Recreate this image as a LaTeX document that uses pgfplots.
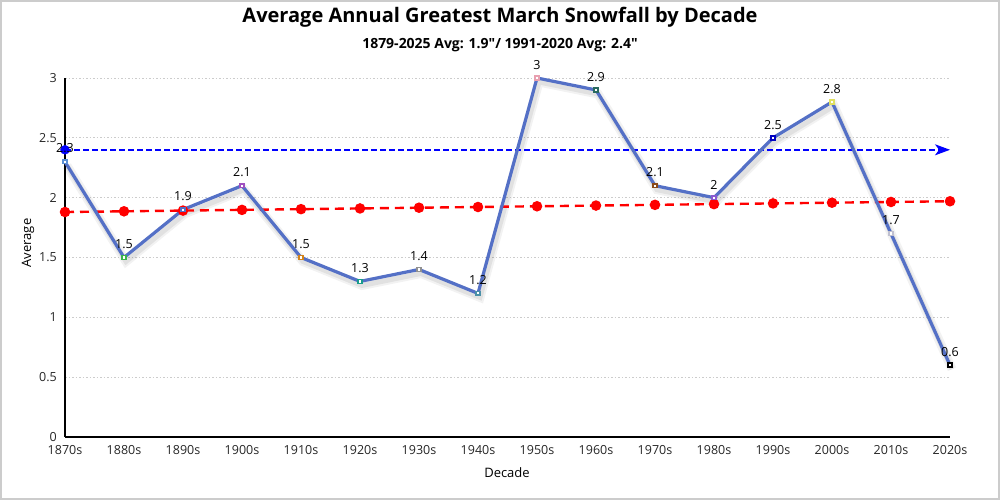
\documentclass[border=0pt]{standalone}
\usepackage{pgfplots}
\pgfplotsset{compat=1.18}
\usepackage{fontspec}
\setmainfont{Open Sans}[Ligatures=TeXOff]
\usetikzlibrary{arrows.meta}

\definecolor{LineBlue}{HTML}{5470C6}
\definecolor{FrameGray}{HTML}{CCCCCC}
\definecolor{RefBlue}{HTML}{0000FF}
\definecolor{c1}{HTML}{5B8FD6}
\definecolor{c2}{HTML}{3BB54A}
\definecolor{c3}{HTML}{5470C6}
\definecolor{c4}{HTML}{A050C0}
\definecolor{c5}{HTML}{D4841A}
\definecolor{c6}{HTML}{1A9C8C}
\definecolor{c7}{HTML}{909090}
\definecolor{c8}{HTML}{4A90A8}
\definecolor{c9}{HTML}{E8A0B0}
\definecolor{c10}{HTML}{2A6A60}
\definecolor{c11}{HTML}{8B4A1A}
\definecolor{c12}{HTML}{8A5AD0}
\definecolor{c13}{HTML}{0000C0}
\definecolor{c14}{HTML}{E0E060}
\definecolor{c15}{HTML}{C0C0D0}
\definecolor{c16}{HTML}{000000}

\pgfplotstableread{
x  y    c
0  2.3  a
1  1.5  b
2  1.9  c
3  2.1  d
4  1.5  e
5  1.3  f
6  1.4  g
7  1.2  h
8  3.0  i
9  2.9  j
10 2.1  k
11 2.0  l
12 2.5  m
13 2.8  n
14 1.7  o
15 0.6  p
}\snow

\begin{document}
\begin{tikzpicture}[x=1pt,y=1pt]
\draw[FrameGray, line width=2pt] (1,1) rectangle (999,499);
\begin{axis}[
  scale only axis,
  width=885pt, height=359pt,
  at={(65pt,63pt)}, anchor=south west,
  xmin=0, xmax=15, ymin=0, ymax=3,
  axis x line=bottom, axis y line=left,
  axis line style={-, black, line width=1.2pt},
  xtick={0,...,15},
  xticklabels={1870s,1880s,1890s,1900s,1910s,1920s,1930s,1940s,1950s,1960s,1970s,1980s,1990s,2000s,2010s,2020s},
  ytick={0,0.5,1,1.5,2,2.5,3},
  major tick length=0pt,
  ymajorgrids,
  grid style={gray!40, line width=0.8pt, dash pattern=on 1.5pt off 2pt},
  /pgf/number format/assume math mode=true,
  tick label style={font=\fontsize{12.5}{14}\selectfont, text=black!85},
  xticklabel style={inner sep=0pt, anchor=north, yshift=-8pt},
  yticklabel style={inner sep=0pt, anchor=east, xshift=-8pt},
  clip=false,
]
% shadow of main line
\addplot[black, opacity=0.05, line width=9pt, xshift=2pt, yshift=-4pt] table[x=x,y=y] {\snow};
\addplot[black, opacity=0.07, line width=5pt, xshift=2pt, yshift=-4pt] table[x=x,y=y] {\snow};
% red trend
\addplot[red, line width=2.4pt, dash pattern=on 9pt off 6pt, mark=*, mark size=4pt, mark options={solid, fill=red, draw=red}]
  coordinates {(0,1.880) (1,1.886) (2,1.892) (3,1.898) (4,1.904) (5,1.910) (6,1.916) (7,1.922) (8,1.928) (9,1.934) (10,1.940) (11,1.946) (12,1.952) (13,1.958) (14,1.964) (15,1.970)};
% blue normal: dashed line, arrow tip, start dot
\addplot[draw=RefBlue, line width=1.6pt, dash pattern=on 6pt off 3pt, no marks]
  coordinates {(0,2.4) (14.85,2.4)};
\addplot[RefBlue, fill=RefBlue, line width=1.2pt, solid, no marks, -{Stealth[length=15pt,width=11pt,inset=4pt]}]
  coordinates {(14.8,2.4) (15,2.4)};
\addplot[only marks, mark=*, mark size=4.5pt, mark options={fill=RefBlue, draw=RefBlue}]
  coordinates {(0,2.4)};
% main line
\addplot[LineBlue, line width=3.2pt,
  nodes near coords, point meta=explicit,
  every node near coord/.style={font=\fontsize{12.5}{14}\selectfont, text=black, inner sep=1pt, anchor=south, yshift=6pt}]
  table[x=x,y=y,meta=y] {\snow};
% markers
\addplot[scatter, only marks, point meta=explicit symbolic,
  scatter/classes={
    a={mark=square*, draw=c1, fill=white},
    b={mark=square*, draw=c2, fill=white},
    c={mark=square*, draw=c3, fill=white},
    d={mark=square*, draw=c4, fill=white},
    e={mark=square*, draw=c5, fill=white},
    f={mark=square*, draw=c6, fill=white},
    g={mark=square*, draw=c7, fill=white},
    h={mark=square*, draw=c8, fill=white},
    i={mark=square*, draw=c9, fill=white},
    j={mark=square*, draw=c10, fill=white},
    k={mark=square*, draw=c11, fill=white},
    l={mark=square*, draw=c12, fill=white},
    m={mark=square*, draw=c13, fill=white},
    n={mark=square*, draw=c14, fill=white},
    o={mark=square*, draw=c15, fill=white},
    p={mark=square*, draw=c16, fill=white}},
  mark size=1.9pt, line width=1.6pt]
  table[x=x,y=y,meta=c] {\snow};
\end{axis}
\node[font=\fontsize{20}{24}\selectfont\bfseries] at (500,483) {Average Annual Greatest March Snowfall by Decade};
\node[font=\fontsize{14}{17}\selectfont\bfseries] at (500,455) {1879-2025 Avg: 1.9"/ 1991-2020 Avg: 2.4"};
\node[font=\fontsize{13}{16}\selectfont, rotate=90] at (28,257) {Average};
\node[font=\fontsize{13}{16}\selectfont] at (507,27) {Decade};
\end{tikzpicture}
\end{document}
